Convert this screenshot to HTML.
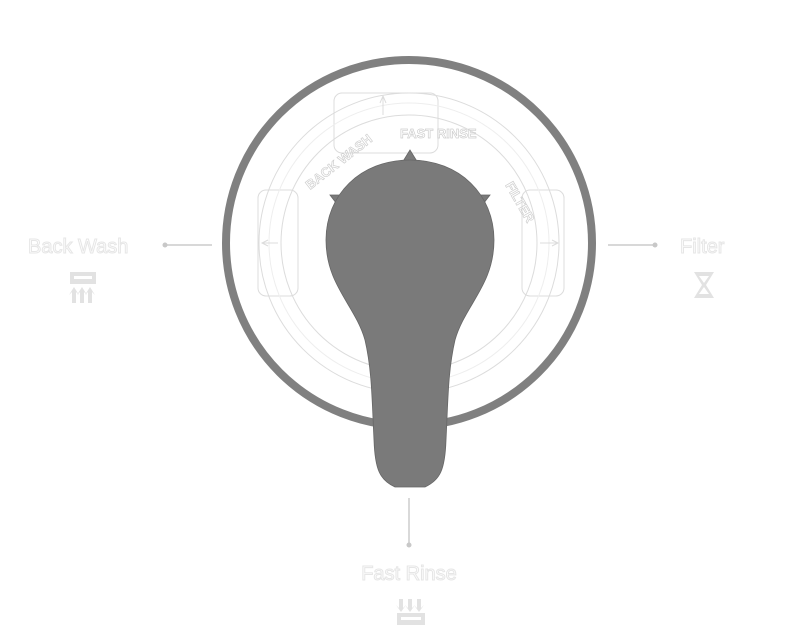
<!DOCTYPE html>
<html><head><style>
body{margin:0;background:#fff;width:800px;height:633px;overflow:hidden;font-family:"Liberation Sans",sans-serif}
</style></head><body>
<svg width="800" height="633" viewBox="0 0 800 633" xmlns="http://www.w3.org/2000/svg">
<g fill="none" stroke="#dcdcdc" stroke-width="1">
<rect x="334" y="93" width="104" height="60" rx="8"/>
<rect x="258" y="190" width="40" height="106" rx="8"/>
<rect x="522" y="190" width="42" height="106" rx="8"/>
<circle cx="409" cy="243" r="150"/>
<circle cx="409" cy="243" r="128"/>
<circle cx="409" cy="243" r="140" stroke="#eee"/>
<path d="M383 115 L383 96 M380 103 L383 96 L386 103"/>
<path d="M262 243 L278 243 M268 240 L262 243 L268 246"/>
<path d="M540 243 L558 243 M552 240 L558 243 L552 246"/>
</g>
<g font-size="13" font-weight="bold" fill="none" stroke="#cfcfcf" stroke-width="0.7">
<text x="310" y="190" transform="rotate(-38 310 190)">BACK WASH</text>
<text x="400" y="138">FAST RINSE</text>
<text x="505" y="185" transform="rotate(60 505 185)">FILTER</text>
</g>
<circle cx="409" cy="243" r="183" fill="none" stroke="#808080" stroke-width="8"/>
<g fill="#7a7a7a" stroke="#666" stroke-width="0.8">
<path d="M410 150 L402 163 L418 163Z"/>
<path d="M330 195 L348 195 L340 208Z"/>
<path d="M490 195 L472 195 L480 208Z"/>
<path d="M410 160 C460 160 494 195 494 240 C494 285 465 305 455 340 C448 370 448 400 446 440 C445 470 440 480 425 487 L395 487 C380 480 375 470 374 440 C372 400 372 370 365 340 C355 305 326 285 326 240 C326 195 360 160 410 160Z"/>
</g>
<g stroke="#ccc" stroke-width="1.5">
<line x1="165" y1="245" x2="212" y2="245"/>
<line x1="608" y1="245" x2="655" y2="245"/>
<line x1="409" y1="498" x2="409" y2="545"/>
</g>
<g fill="#c8c8c8"><circle cx="165" cy="245" r="2.5"/><circle cx="655" cy="245" r="2.5"/><circle cx="409" cy="545" r="2.5"/></g>
<g font-size="20" fill="#fff" stroke="#e6e6e6" stroke-width="1">
<text x="28" y="253">Back Wash</text>
<text x="680" y="253">Filter</text>
<text x="409" y="580" text-anchor="middle">Fast Rinse</text>
</g>
<g fill="#e2e2e2">
<rect x="70" y="272" width="26" height="12"/><rect x="74" y="276" width="18" height="3" fill="#fff"/>
<path d="M72 303 L72 292 L69 295 L74 287 L79 295 L76 292 L76 303Z"/>
<path d="M80 303 L80 292 L77 295 L82 287 L87 295 L84 292 L84 303Z"/>
<path d="M88 303 L88 292 L85 295 L90 287 L95 295 L92 292 L92 303Z"/>
<path d="M694 272 L714 272 L706 285 L714 298 L694 298 L702 285Z"/>
<path d="M699 276 L709 276 L704 283Z M699 294 L709 294 L704 287Z" fill="#fff"/>
<rect x="397" y="613" width="28" height="12"/><rect x="401" y="617" width="20" height="3" fill="#fff"/>
<path d="M399 599 L399 608 L396 605 L401 612 L406 605 L403 608 L403 599Z"/>
<path d="M408 599 L408 608 L405 605 L410 612 L415 605 L412 608 L412 599Z"/>
<path d="M417 599 L417 608 L414 605 L419 612 L424 605 L421 608 L421 599Z"/>
</g>
</svg>
</body></html>
